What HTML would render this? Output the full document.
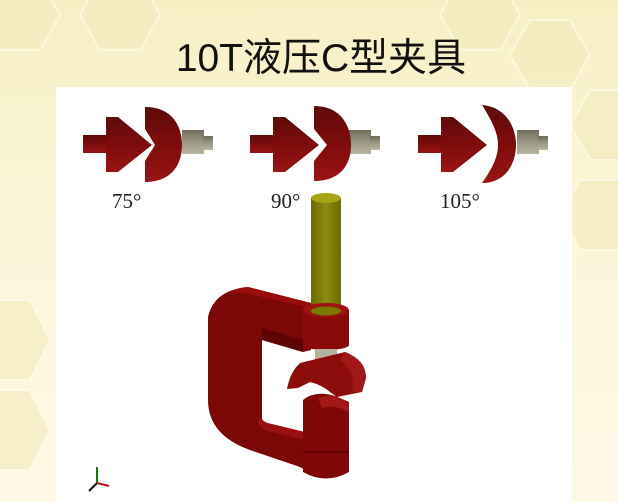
<!DOCTYPE html>
<html><head><meta charset="utf-8"><style>
html,body{margin:0;padding:0;}
body{width:618px;height:502px;overflow:hidden;background:#fbf5d4;position:relative;font-family:"Liberation Sans","Noto Sans CJK SC",sans-serif;}
svg{position:absolute;left:0;top:0;}
</style></head><body>
<svg width="618" height="502" viewBox="0 0 618 502">
<defs>
<linearGradient id="bg" x1="0" y1="0" x2="0" y2="1"><stop offset="0" stop-color="#f7efc4"/><stop offset="0.5" stop-color="#fbf6da"/><stop offset="1" stop-color="#fdf9e6"/></linearGradient>
<linearGradient id="red" x1="0" y1="0" x2="0" y2="1"><stop offset="0" stop-color="#5e0a0a"/><stop offset="0.5" stop-color="#7e0c0c"/><stop offset="1" stop-color="#9a1414"/></linearGradient>
<linearGradient id="gray" x1="0" y1="0" x2="0" y2="1"><stop offset="0" stop-color="#6f6c5a"/><stop offset="0.5" stop-color="#9a9782"/><stop offset="1" stop-color="#b8b59f"/></linearGradient>
<linearGradient id="rod" x1="0" y1="0" x2="1" y2="0"><stop offset="0" stop-color="#6b6a00"/><stop offset="0.5" stop-color="#8d8a10"/><stop offset="1" stop-color="#6d6b02"/></linearGradient>
<g id="piece">
<rect x="0" y="18" width="24" height="18" fill="url(#red)"/>
<path d="M23 0 L35 0 L69 28 L35 55 L23 55 Z" fill="url(#red)"/>
<rect x="99" y="13" width="22" height="24" fill="url(#gray)"/>
<rect x="120" y="19" width="10" height="14" fill="url(#gray)"/>
</g>
</defs>
<rect width="618" height="502" fill="url(#bg)"/>
<g fill="#f4ecc0" stroke="#fffbe8" stroke-width="2" opacity="0.7">
<polygon points="0,-20 40,-20 60,15 40,50 0,50 -20,15"/>
<polygon points="100,-20 140,-20 160,15 140,50 100,50 80,15"/>
<polygon points="460,-20 500,-20 520,15 500,50 460,50 440,15"/>
<polygon points="530,20 570,20 590,55 570,90 530,90 510,55"/>
<polygon points="590,90 630,90 650,125 630,160 590,160 570,125"/>
<polygon points="580,180 630,180 650,215 630,250 580,250 560,215"/>
<polygon points="-10,300 30,300 50,340 30,380 -10,380"/>
<polygon points="-10,390 30,390 50,430 30,470 -10,470"/>
</g>
<rect x="56" y="87" width="516" height="415" fill="#fff"/>
<text x="321" y="71" text-anchor="middle" font-size="39" fill="#111" font-family="Liberation Sans, Noto Sans CJK SC, sans-serif">10T液压C型夹具</text>

<g transform="translate(83,117)"><use href="#piece"/>
<path d="M62 -10 C90 -10 99 10 99 28 C99 46 90 65 62 65 L62 44 L72 28 L62 12 Z" fill="url(#red)"/></g>
<g transform="translate(250,117)"><use href="#piece"/>
<path d="M64 -11 C92 -11 101 10 101 28 C101 46 92 64 64 64 L64 44 L77 28 L64 12 Z" fill="url(#red)"/></g>
<g transform="translate(418,117)"><use href="#piece"/>
<path d="M64 -12 C88 -10 98 10 98 28 C98 46 88 66 64 66 C74 52 80 40 80 28 C80 16 74 4 64 -12 Z" fill="url(#red)"/></g>

<g font-family="Liberation Serif, serif" font-size="21" fill="#222">
<text x="112" y="208">75°</text>
<text x="271" y="208">90°</text>
<text x="440" y="208">105°</text>
</g>

<path d="M248 287 L311 303 L311 350 L303 352 L262 340 L262 418 Q262 428 272 430 L305 438 L305 470 L300 467 L250 450 Q208 435 208 400 L208 317 Q214 290 248 287 Z" fill="#7c0707"/>
<path d="M262 328 L303 340 L303 352 L262 340 Z" fill="#5e0404"/>
<path d="M258 418 Q258 430 272 432 L305 440 L305 432 L272 424 Q262 422 262 418 Z" fill="#9a1010"/>
<path d="M230 292 Q240 287 248 287 L311 303 L305 307 L245 293 Z" fill="#9a0c0c"/>
<rect x="311" y="198" width="30" height="115" fill="url(#rod)"/>
<ellipse cx="326" cy="198" rx="15" ry="5" fill="#a8a418"/>
<rect x="303" y="310" width="46" height="35" fill="#8a0a0a"/>
<ellipse cx="326" cy="345" rx="23" ry="5" fill="#8a0a0a"/>
<ellipse cx="326" cy="310" rx="23" ry="7" fill="#a01212"/>
<ellipse cx="326" cy="311" rx="15" ry="4.5" fill="#7a7705"/>
<rect x="315" y="349" width="22" height="12" fill="#b4b29c"/>
<path d="M300 363 L345 352 Q366 360 366 378 L362 392 L337 397 L330 392 Q322 385 310 382 L298 388 L287 389 Q290 372 300 363 Z" fill="#8c0c0c"/>
<path d="M345 352 Q366 360 366 378 L362 392 L352 392 Q356 372 340 360 Z" fill="#a01818"/>
<path d="M303 400 Q315 390 335 396 L349 402 L349 472 Q326 485 303 472 Z" fill="#7f0707"/>
<path d="M318 398 Q335 392 349 404 L349 412 Q335 404 322 408 Z" fill="#a51616"/>
<line x1="303" y1="452" x2="349" y2="452" stroke="#5a0303" stroke-width="1.5"/>
<g stroke-width="2">
<line x1="97" y1="483" x2="97" y2="467" stroke="#117a11"/>
<line x1="97" y1="483" x2="109" y2="486" stroke="#c01010"/>
<line x1="97" y1="483" x2="89" y2="491" stroke="#111"/>
</g>
</svg>
</body></html>
